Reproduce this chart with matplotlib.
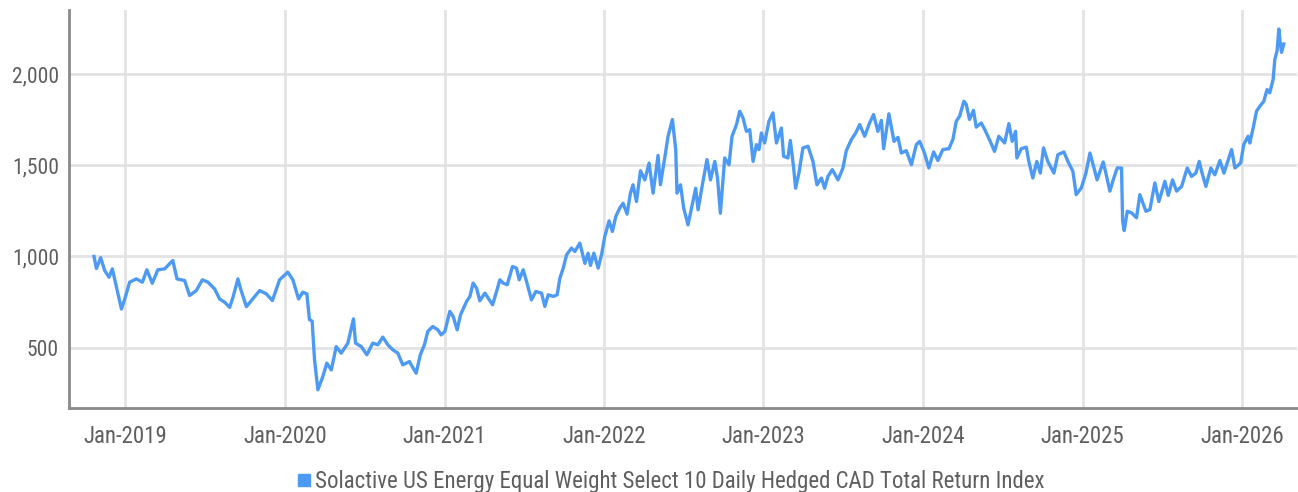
"""Solactive US Energy index history, line chart."""

import matplotlib

matplotlib.use("Agg")
import matplotlib.dates as mdates
import matplotlib.pyplot as plt
import numpy as np
import pandas as pd
from matplotlib import font_manager
from matplotlib.lines import Line2D
from matplotlib.ticker import FuncFormatter

# decimal-year timestamps and index levels
years = [
    2018.803, 2018.818, 2018.845, 2018.870, 2018.897, 2018.918, 2018.944, 2018.975, 2018.996,
    2019.027, 2019.069, 2019.107, 2019.135, 2019.169, 2019.204, 2019.246, 2019.298, 2019.324,
    2019.372, 2019.403, 2019.445, 2019.483, 2019.518, 2019.560, 2019.591, 2019.623, 2019.654,
    2019.675, 2019.706, 2019.723, 2019.759, 2019.790, 2019.842, 2019.884, 2019.922, 2019.967,
    2020.019, 2020.051, 2020.087, 2020.113, 2020.139, 2020.155, 2020.172, 2020.187, 2020.208,
    2020.239, 2020.264, 2020.292, 2020.323, 2020.354, 2020.396, 2020.431, 2020.444, 2020.480,
    2020.515, 2020.552, 2020.584, 2020.615, 2020.646, 2020.678, 2020.709, 2020.740, 2020.782,
    2020.799, 2020.824, 2020.850, 2020.876, 2020.897, 2020.928, 2020.960, 2020.981, 2021.002,
    2021.033, 2021.054, 2021.079, 2021.100, 2021.138, 2021.159, 2021.179, 2021.201, 2021.221,
    2021.253, 2021.273, 2021.301, 2021.326, 2021.347, 2021.367, 2021.393, 2021.426, 2021.451,
    2021.468, 2021.493, 2021.514, 2021.545, 2021.572, 2021.608, 2021.629, 2021.650, 2021.681,
    2021.706, 2021.723, 2021.744, 2021.765, 2021.796, 2021.817, 2021.848, 2021.880, 2021.900,
    2021.915, 2021.936, 2021.963, 2021.984, 2022.005, 2022.032, 2022.053, 2022.074, 2022.099,
    2022.120, 2022.145, 2022.166, 2022.182, 2022.204, 2022.229, 2022.256, 2022.283, 2022.308,
    2022.339, 2022.354, 2022.381, 2022.402, 2022.429, 2022.450, 2022.458, 2022.480, 2022.500,
    2022.527, 2022.555, 2022.575, 2022.590, 2022.617, 2022.646, 2022.668, 2022.695, 2022.712,
    2022.730, 2022.757, 2022.784, 2022.803, 2022.831, 2022.851, 2022.872, 2022.893, 2022.914,
    2022.935, 2022.956, 2022.972, 2022.987, 2023.008, 2023.035, 2023.060, 2023.082, 2023.113,
    2023.127, 2023.154, 2023.169, 2023.190, 2023.202, 2023.223, 2023.248, 2023.280, 2023.311,
    2023.336, 2023.364, 2023.384, 2023.405, 2023.432, 2023.468, 2023.499, 2023.520, 2023.552,
    2023.579, 2023.604, 2023.635, 2023.666, 2023.691, 2023.718, 2023.740, 2023.754, 2023.787,
    2023.819, 2023.844, 2023.865, 2023.896, 2023.928, 2023.959, 2023.980, 2024.011, 2024.038,
    2024.068, 2024.095, 2024.126, 2024.164, 2024.189, 2024.210, 2024.231, 2024.258, 2024.273,
    2024.293, 2024.318, 2024.335, 2024.367, 2024.394, 2024.423, 2024.450, 2024.477, 2024.513,
    2024.540, 2024.561, 2024.582, 2024.590, 2024.618, 2024.649, 2024.665, 2024.690, 2024.715,
    2024.737, 2024.757, 2024.784, 2024.822, 2024.847, 2024.885, 2024.910, 2024.941, 2024.962,
    2024.994, 2025.021, 2025.046, 2025.066, 2025.091, 2025.129, 2025.146, 2025.171, 2025.192,
    2025.217, 2025.244, 2025.251, 2025.261, 2025.280, 2025.307, 2025.338, 2025.359, 2025.397,
    2025.422, 2025.453, 2025.478, 2025.516, 2025.537, 2025.564, 2025.589, 2025.621, 2025.656,
    2025.683, 2025.710, 2025.731, 2025.746, 2025.773, 2025.804, 2025.829, 2025.861, 2025.886,
    2025.934, 2025.955, 2025.991, 2026.011, 2026.038, 2026.049, 2026.070, 2026.091, 2026.112,
    2026.137, 2026.157, 2026.174, 2026.195, 2026.206, 2026.220, 2026.231, 2026.237, 2026.248,
    2026.262,
]
levels = [
    1000, 934, 993, 923, 886, 932, 831, 712, 767,
    859, 877, 859, 927, 853, 927, 932, 978, 877,
    868, 786, 813, 872, 859, 822, 767, 749, 721,
    776, 877, 822, 725, 758, 813, 795, 758, 872,
    914, 872, 767, 804, 795, 654, 645, 434, 269,
    342, 415, 378, 506, 470, 525, 658, 525, 506,
    461, 525, 516, 558, 516, 488, 470, 406, 424,
    397, 360, 461, 516, 589, 616, 598, 570, 589,
    699, 671, 598, 680, 753, 781, 854, 826, 757,
    799, 772, 735, 808, 872, 854, 845, 945, 936,
    872, 927, 863, 762, 808, 799, 726, 790, 781,
    790, 881, 936, 1009, 1046, 1027, 1073, 962, 1018,
    951, 1018, 936, 1009, 1109, 1195, 1137, 1219, 1265,
    1292, 1232, 1347, 1393, 1301, 1470, 1420, 1512, 1347,
    1554, 1393, 1540, 1659, 1751, 1586, 1347, 1393, 1265,
    1173, 1292, 1374, 1256, 1393, 1531, 1420, 1521, 1430,
    1237, 1540, 1503, 1659, 1723, 1796, 1759, 1686, 1695,
    1521, 1613, 1586, 1677, 1622, 1741, 1787, 1622, 1704,
    1549, 1540, 1636, 1485, 1374, 1457, 1595, 1604, 1521,
    1393, 1430, 1374, 1439, 1476, 1420, 1485, 1580, 1641,
    1677, 1723, 1659, 1732, 1778, 1686, 1746, 1591, 1782,
    1631, 1653, 1567, 1580, 1503, 1613, 1631, 1567, 1485,
    1573, 1526, 1586, 1591, 1641, 1741, 1769, 1851, 1833,
    1751, 1801, 1709, 1732, 1686, 1631, 1576, 1659, 1622,
    1728, 1631, 1686, 1540, 1591, 1599, 1521, 1430, 1521,
    1457, 1595, 1521, 1457, 1558, 1573, 1521, 1467, 1339,
    1376, 1457, 1567, 1503, 1420, 1518, 1457, 1358, 1420,
    1485, 1485, 1193, 1142, 1248, 1239, 1212, 1339, 1248,
    1257, 1403, 1301, 1412, 1335, 1420, 1358, 1384, 1485,
    1439, 1457, 1521, 1467, 1384, 1485, 1448, 1526, 1457,
    1586, 1485, 1512, 1613, 1659, 1622, 1704, 1796, 1824,
    1851, 1915, 1897, 1970, 2081, 2127, 2247, 2192, 2119,
    2165,
]
series_name = "Solactive US Energy Equal Weight Select 10 Daily Hedged CAD Total Return Index"
y_ticks = [500, 1000, 1500, 2000]

LINE = "#4d9af5"
GRID = "#e3e3e3"
SPINE = "#8a8a8a"
TEXT = "#5f5f5f"


def pick_font():
    names = {f.name for f in font_manager.fontManager.ttflist}
    for name in ["Liberation Sans Narrow", "Roboto Condensed", "Roboto", "DejaVu Sans"]:
        if name in names:
            return name
    return "DejaVu Sans"


def to_dates(dec_years):
    out = []
    for y in dec_years:
        base = int(np.floor(y))
        out.append(pd.Timestamp(base, 1, 1) + pd.Timedelta(days=(y - base) * 365.25))
    return out


plt.rcParams["font.family"] = [pick_font(), "DejaVu Sans"]

dates = to_dates(years)

fig = plt.figure(figsize=(12.98, 4.92), dpi=100)
ax = fig.add_axes([0.053, 0.171, 0.946, 0.809])

ax.plot(dates, levels, color=LINE, lw=2.4, solid_joinstyle="round", zorder=3)

ax.set_xlim(to_dates([2018.645])[0], to_dates([2026.343])[0])
ax.set_ylim(170, 2352)

ax.xaxis.set_major_locator(mdates.MonthLocator(bymonth=1))
ax.xaxis.set_major_formatter(mdates.DateFormatter("%b-%Y"))
ax.set_yticks(y_ticks)
ax.yaxis.set_major_formatter(FuncFormatter(lambda v, _: f"{v:,.0f}"))

ax.grid(True, color=GRID, lw=2, zorder=0)
ax.tick_params(length=0, colors=TEXT, pad=7)
ax.tick_params(axis="y", labelsize=15.5)
ax.tick_params(axis="x", labelsize=16.5, pad=12)

for side in ("top", "right"):
    ax.spines[side].set_visible(False)
for side in ("left", "bottom"):
    ax.spines[side].set_color(SPINE)
    ax.spines[side].set_linewidth(2)

handle = Line2D([], [], ls="none", marker="s", markersize=8, color=LINE)
fig.legend([handle], [series_name], loc="center", bbox_to_anchor=(0.516, 0.022),
           frameon=False, fontsize=16.5, labelcolor=TEXT, handletextpad=0.05,
           handlelength=0.8, borderaxespad=0)

fig.savefig("out.png", dpi=100)
plt.close(fig)
